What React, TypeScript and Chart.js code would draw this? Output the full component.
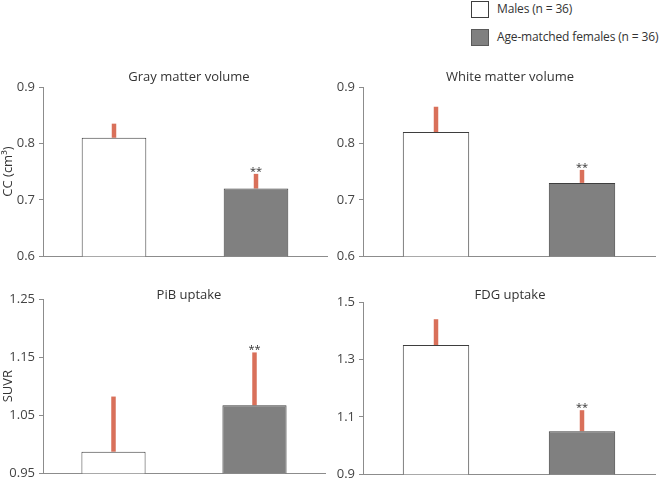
import React, { useEffect, useRef } from "react";
import { Chart, registerables } from "chart.js";

Chart.register(...registerables);

// ---------- data ----------
const groups = ["Males (n = 36)", "Age-matched females (n = 36)"];
const panelTitles = ["Gray matter volume", "White matter volume", "PiB uptake", "FDG uptake"];
const yAxisTitles = ["CC (cm³)", "", "SUVR", ""];

const grayMatterMean = [0.81, 0.72];
const grayMatterSd = [0.025, 0.026];
const whiteMatterMean = [0.82, 0.73];
const whiteMatterSd = [0.045, 0.023];
const pibMean = [0.987, 1.067];
const pibSd = [0.095, 0.091];
const fdgMean = [1.35, 1.05];
const fdgSd = [0.09, 0.073];

const significance = ["", "**"];

const volumeTicks = [0.6, 0.7, 0.8, 0.9];
const volumeTickLabels = ["0.6", "0.7", "0.8", "0.9"];
const pibTicks = [0.95, 1.05, 1.15, 1.25];
const pibTickLabels = ["0.95", "1.05", "1.15", "1.25"];
const fdgTicks = [0.9, 1.1, 1.3, 1.5];
const fdgTickLabels = ["0.9", "1.1", "1.3", "1.5"];

// ---------- styles ----------
const FONT = '"Open Sans", "Noto Sans", sans-serif';
const TEXT = "#333333";
const AXIS = "#8c8c8c";
const ERR = "#d9705a";
const BAR_FILL = ["#ffffff", "#808080"];
const BAR_BORDER = "#3e3e3e";

type Panel = {
  title: string;
  yTitle: string;
  mean: number[];
  sd: number[];
  ticks: number[];
  tickLabels: string[];
  box: { left: number; top: number; width: number; height: number };
  pad: { top: number; right: number; bottom: number; left: number };
  axisWidth: number;
  titleDy: number;
  titleDx: number;
};

const panels: Panel[] = [
  {
    title: panelTitles[0], yTitle: yAxisTitles[0], mean: grayMatterMean, sd: grayMatterSd,
    ticks: volumeTicks, tickLabels: volumeTickLabels,
    box: { left: 0, top: 50, width: 330, height: 218 },
    pad: { top: 37, right: 3, bottom: 10, left: 0 }, axisWidth: 43, titleDy: 6.3, titleDx: 4,
  },
  {
    title: panelTitles[1], yTitle: yAxisTitles[1], mean: whiteMatterMean, sd: whiteMatterSd,
    ticks: volumeTicks, tickLabels: volumeTickLabels,
    box: { left: 330, top: 50, width: 330, height: 218 },
    pad: { top: 37, right: 5, bottom: 10, left: 0 }, axisWidth: 33, titleDy: 6.3, titleDx: 1,
  },
  {
    title: panelTitles[2], yTitle: yAxisTitles[2], mean: pibMean, sd: pibSd,
    ticks: pibTicks, tickLabels: pibTickLabels,
    box: { left: 0, top: 278, width: 330, height: 207 },
    pad: { top: 21, right: 5, bottom: 10, left: 0 }, axisWidth: 43, titleDy: 0.5, titleDx: 5,
  },
  {
    title: panelTitles[3], yTitle: yAxisTitles[3], mean: fdgMean, sd: fdgSd,
    ticks: fdgTicks, tickLabels: fdgTickLabels,
    box: { left: 330, top: 278, width: 330, height: 208 },
    pad: { top: 24, right: 5, bottom: 10, left: 0 }, axisWidth: 33, titleDy: 2.7, titleDx: 1,
  },
];

function PanelChart({ p }: { p: Panel }) {
  const ref = useRef<HTMLCanvasElement | null>(null);
  useEffect(() => {
    if (!ref.current) return;
    const decor = {
      id: "decor",
      beforeDatasetsDraw(chart: any) {
        const meta = chart.getDatasetMeta(0);
        const y = chart.scales.y;
        const ctx = chart.ctx;
        ctx.save();
        ctx.strokeStyle = ERR;
        ctx.lineWidth = 4.5;
        ctx.lineCap = "butt";
        p.mean.forEach((m, i) => {
          const x = meta.data[i].x;
          ctx.beginPath();
          ctx.moveTo(x, y.getPixelForValue(m));
          ctx.lineTo(x, y.getPixelForValue(m + p.sd[i]));
          ctx.stroke();
        });
        ctx.restore();
      },
      afterDatasetsDraw(chart: any) {
        const meta = chart.getDatasetMeta(0);
        const y = chart.scales.y;
        const ctx = chart.ctx;
        const area = chart.chartArea;
        ctx.save();
        ctx.fillStyle = TEXT;
        ctx.textAlign = "center";
        ctx.textBaseline = "alphabetic";
        ctx.font = `11px ${FONT}`;
        p.mean.forEach((m, i) => {
          if (!significance[i]) return;
          const x = meta.data[i].x;
          ctx.fillText(significance[i], x, y.getPixelForValue(m + p.sd[i]) + 1);
        });
        ctx.font = `13px ${FONT}`;
        ctx.fillText(p.title, (area.left + area.right) / 2 + p.titleDx, area.top - p.titleDy);
        ctx.restore();
      },
    };
    const chart = new Chart(ref.current, {
      type: "bar",
      data: {
        labels: groups,
        datasets: [
          {
            data: p.mean,
            backgroundColor: BAR_FILL,
            borderColor: BAR_BORDER,
            borderWidth: 1,
            borderSkipped: false,
            barPercentage: 0.455,
            categoryPercentage: 1,
          },
        ],
      },
      options: {
        responsive: false,
        animation: false,
        devicePixelRatio: 1,
        layout: { padding: p.pad },
        plugins: {
          legend: { display: false },
          tooltip: { enabled: false },
          title: { display: false },
        },
        scales: {
          x: {
            type: "category",
            ticks: { display: false },
            grid: { display: false },
            border: { display: true, color: AXIS, width: 1 },
            afterFit(scale: any) {
              scale.height = 0;
            },
          },
          y: {
            type: "linear",
            min: p.ticks[0],
            max: p.ticks[p.ticks.length - 1],
            afterBuildTicks(scale: any) {
              scale.ticks = p.ticks.map((v) => ({ value: v }));
            },
            afterFit(scale: any) {
              scale.width = p.axisWidth;
            },
            ticks: {
              callback: (_v: any, i: number) => p.tickLabels[i],
              font: { family: FONT, size: 13 },
              color: "#444444",
              padding: 4,
            },
            grid: {
              display: true,
              drawOnChartArea: false,
              drawTicks: true,
              tickLength: 4,
              color: AXIS,
            },
            border: { display: true, color: AXIS, width: 1 },
            title: {
              display: !!p.yTitle,
              text: p.yTitle,
              font: { family: FONT, size: 13 },
              color: TEXT,
              padding: { top: 0, bottom: 0 },
            },
          },
        },
      } as any,
      plugins: [decor],
    });
    return () => chart.destroy();
  }, [p]);
  return (
    <canvas
      ref={ref}
      width={p.box.width}
      height={p.box.height}
      style={{
        position: "absolute",
        left: p.box.left,
        top: p.box.top,
        width: p.box.width,
        height: p.box.height,
      }}
    />
  );
}

export default function App() {
  const legendText: React.CSSProperties = {
    position: "absolute",
    left: 497,
    fontFamily: FONT,
    fontSize: 12,
    letterSpacing: "-0.15px",
    color: TEXT,
    lineHeight: "18px",
    whiteSpace: "nowrap",
  };
  return (
    <div
      style={{
        position: "fixed",
        left: 0,
        top: 0,
        width: 660,
        height: 481,
        overflow: "hidden",
        background: "#ffffff",
      }}
    >
      {panels.map((p, i) => (
        <PanelChart key={i} p={p} />
      ))}
      <div
        style={{
          position: "absolute",
          left: 471,
          top: 1,
          width: 16,
          height: 15,
          background: BAR_FILL[0],
          border: `1px solid ${BAR_BORDER}`,
        }}
      />
      <div style={{ ...legendText, top: 0 }}>{groups[0]}</div>
      <div
        style={{
          position: "absolute",
          left: 471,
          top: 29,
          width: 16,
          height: 15,
          background: BAR_FILL[1],
          border: `1px solid #5a5a5a`,
        }}
      />
      <div style={{ ...legendText, top: 28 }}>{groups[1]}</div>
    </div>
  );
}
